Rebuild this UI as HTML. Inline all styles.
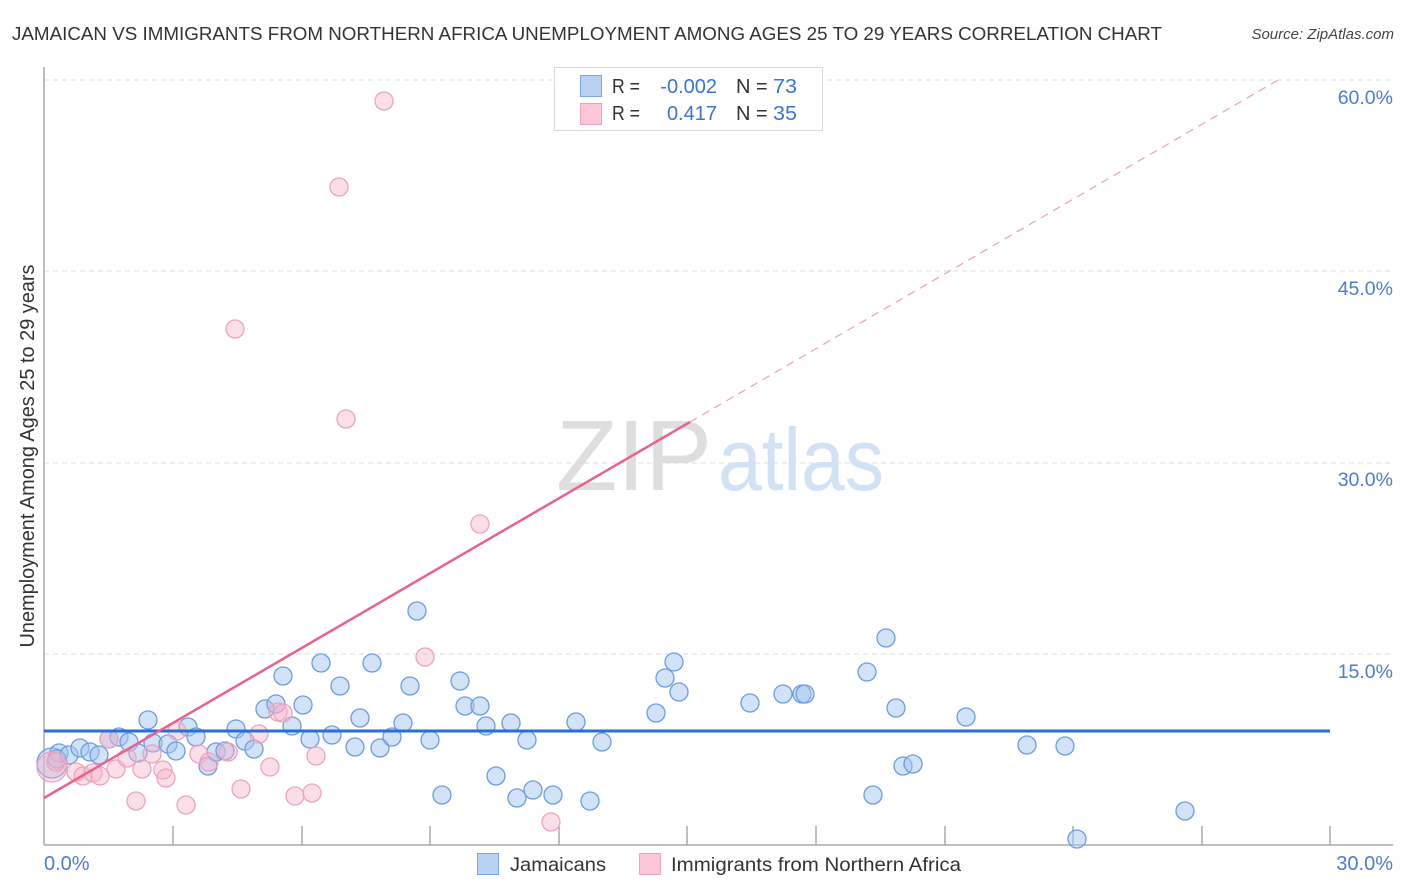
<!DOCTYPE html>
<html><head><meta charset="utf-8"><style>
html,body{margin:0;padding:0;background:#fff;}
svg{display:block;}
text{font-family:"Liberation Sans",sans-serif;}
</style></head><body>
<svg width="1406" height="892" viewBox="0 0 1406 892" xmlns="http://www.w3.org/2000/svg">
<!-- title -->
<text x="12" y="40" font-size="18" fill="#333" textLength="1150" lengthAdjust="spacingAndGlyphs">JAMAICAN VS IMMIGRANTS FROM NORTHERN AFRICA UNEMPLOYMENT AMONG AGES 25 TO 29 YEARS CORRELATION CHART</text>
<text x="1394" y="39" font-size="15" fill="#444" font-style="italic" text-anchor="end">Source: ZipAtlas.com</text>

<!-- watermark -->
<text x="556" y="490" font-family="Liberation Serif,serif" font-size="100" fill="#dedede" textLength="156" lengthAdjust="spacingAndGlyphs">ZIP</text>
<text x="718" y="490" font-size="88" fill="#d2e2f5" textLength="166" lengthAdjust="spacingAndGlyphs">atlas</text>

<!-- gridlines -->
<g stroke="#dcdcdc" stroke-width="1" stroke-dasharray="5,4">
<line x1="44" y1="80" x2="1393" y2="80"/>
<line x1="44" y1="271" x2="1393" y2="271"/>
<line x1="44" y1="463" x2="1393" y2="463"/>
<line x1="44" y1="654" x2="1393" y2="654"/>
</g>

<!-- axes -->
<g stroke="#aaa" stroke-width="1.5">
<line x1="44" y1="67" x2="44" y2="845"/>
<line x1="44" y1="845" x2="1393" y2="845"/>
<line x1="173" y1="826" x2="173" y2="845"/>
<line x1="302" y1="826" x2="302" y2="845"/>
<line x1="430" y1="826" x2="430" y2="845"/>
<line x1="559" y1="826" x2="559" y2="845"/>
<line x1="687" y1="826" x2="687" y2="845"/>
<line x1="816" y1="826" x2="816" y2="845"/>
<line x1="945" y1="826" x2="945" y2="845"/>
<line x1="1073" y1="826" x2="1073" y2="845"/>
<line x1="1202" y1="826" x2="1202" y2="845"/>
<line x1="1330" y1="826" x2="1330" y2="845"/>
</g>

<!-- y labels -->
<g font-size="19.5" fill="#4a7bd8" text-anchor="end">
<text x="1393" y="104">60.0%</text>
<text x="1393" y="295">45.0%</text>
<text x="1393" y="486">30.0%</text>
<text x="1393" y="678">15.0%</text>
<text x="1393" y="870" font-size="20">30.0%</text>
</g>
<text x="44" y="870" font-size="20" fill="#4a7bd8">0.0%</text>

<text transform="translate(34,456) rotate(-90)" font-size="20" fill="#333" text-anchor="middle" textLength="383" lengthAdjust="spacingAndGlyphs">Unemployment Among Ages 25 to 29 years</text>

<!-- blue points -->
<g fill="rgba(165,198,240,0.5)" stroke="#6b9de3" stroke-width="1.3">
<circle cx="52" cy="763" r="15"/>
<circle cx="59" cy="753" r="9"/><circle cx="57" cy="759" r="9"/><circle cx="69" cy="755" r="9"/>
<circle cx="80" cy="748" r="9"/><circle cx="90" cy="752" r="9"/><circle cx="99" cy="755" r="9"/>
<circle cx="109" cy="739" r="9"/><circle cx="119" cy="737" r="9"/><circle cx="129" cy="742" r="9"/>
<circle cx="138" cy="753" r="9"/><circle cx="148" cy="720" r="9"/><circle cx="153" cy="743" r="9"/>
<circle cx="168" cy="744" r="9"/><circle cx="176" cy="751" r="9"/><circle cx="188" cy="727" r="9"/>
<circle cx="196" cy="737" r="9"/><circle cx="208" cy="766" r="9"/><circle cx="216" cy="752" r="9"/>
<circle cx="225" cy="751" r="9"/><circle cx="236" cy="729" r="9"/><circle cx="245" cy="741" r="9"/>
<circle cx="254" cy="749" r="9"/><circle cx="265" cy="709" r="9"/><circle cx="276" cy="704" r="9"/>
<circle cx="283" cy="676" r="9"/><circle cx="292" cy="726" r="9"/><circle cx="303" cy="705" r="9"/>
<circle cx="310" cy="739" r="9"/><circle cx="321" cy="663" r="9"/><circle cx="332" cy="735" r="9"/>
<circle cx="340" cy="686" r="9"/><circle cx="355" cy="747" r="9"/><circle cx="360" cy="718" r="9"/>
<circle cx="372" cy="663" r="9"/><circle cx="380" cy="748" r="9"/><circle cx="392" cy="737" r="9"/>
<circle cx="403" cy="723" r="9"/><circle cx="410" cy="686" r="9"/><circle cx="417" cy="611" r="9"/>
<circle cx="430" cy="740" r="9"/><circle cx="442" cy="795" r="9"/><circle cx="460" cy="681" r="9"/>
<circle cx="465" cy="706" r="9"/><circle cx="480" cy="706" r="9"/><circle cx="486" cy="726" r="9"/>
<circle cx="496" cy="776" r="9"/><circle cx="511" cy="723" r="9"/><circle cx="517" cy="798" r="9"/>
<circle cx="527" cy="740" r="9"/><circle cx="533" cy="790" r="9"/><circle cx="553" cy="795" r="9"/>
<circle cx="576" cy="722" r="9"/><circle cx="590" cy="801" r="9"/><circle cx="602" cy="742" r="9"/>
<circle cx="656" cy="713" r="9"/><circle cx="665" cy="678" r="9"/><circle cx="674" cy="662" r="9"/>
<circle cx="679" cy="692" r="9"/><circle cx="750" cy="703" r="9"/><circle cx="783" cy="694" r="9"/>
<circle cx="802" cy="694" r="9"/><circle cx="805" cy="694" r="9"/><circle cx="867" cy="672" r="9"/>
<circle cx="886" cy="638" r="9"/><circle cx="873" cy="795" r="9"/><circle cx="896" cy="708" r="9"/>
<circle cx="903" cy="766" r="9"/><circle cx="913" cy="764" r="9"/><circle cx="966" cy="717" r="9"/>
<circle cx="1027" cy="745" r="9"/><circle cx="1065" cy="746" r="9"/><circle cx="1185" cy="811" r="9"/>
<circle cx="1077" cy="839" r="9"/>
</g>

<!-- pink points -->
<g fill="rgba(245,178,200,0.42)" stroke="#eea3bb" stroke-width="1.3">
<circle cx="52" cy="767" r="15"/>
<circle cx="56" cy="762" r="9"/><circle cx="76" cy="772" r="9"/><circle cx="83" cy="776" r="9"/>
<circle cx="93" cy="773" r="9"/><circle cx="100" cy="776" r="9"/><circle cx="109" cy="739" r="9"/>
<circle cx="116" cy="769" r="9"/><circle cx="127" cy="758" r="9"/><circle cx="136" cy="801" r="9"/>
<circle cx="142" cy="769" r="9"/><circle cx="152" cy="754" r="9"/><circle cx="163" cy="770" r="9"/>
<circle cx="166" cy="778" r="9"/><circle cx="177" cy="731" r="9"/><circle cx="186" cy="805" r="9"/>
<circle cx="199" cy="754" r="9"/><circle cx="209" cy="762" r="9"/><circle cx="228" cy="752" r="9"/>
<circle cx="241" cy="789" r="9"/><circle cx="259" cy="734" r="9"/><circle cx="270" cy="767" r="9"/>
<circle cx="278" cy="712" r="9"/><circle cx="283" cy="713" r="9"/><circle cx="295" cy="796" r="9"/>
<circle cx="312" cy="793" r="9"/><circle cx="316" cy="756" r="9"/><circle cx="425" cy="657" r="9"/>
<circle cx="551" cy="822" r="9"/><circle cx="480" cy="524" r="9"/><circle cx="346" cy="419" r="9"/>
<circle cx="235" cy="329" r="9"/><circle cx="339" cy="187" r="9"/><circle cx="384" cy="101" r="9"/>
</g>

<!-- regression lines -->
<line x1="44" y1="731" x2="1330" y2="731" stroke="#2a6dd6" stroke-width="3"/>
<line x1="44" y1="798" x2="690" y2="422" stroke="#e8628c" stroke-width="2.5"/>
<line x1="690" y1="422" x2="1278" y2="80" stroke="#eaa0b8" stroke-width="1.2" stroke-dasharray="8,6"/>

<!-- legend box -->
<rect x="554.5" y="67.5" width="268" height="63" fill="#fff" stroke="#d8d8d8" stroke-width="1"/>
<rect x="580.5" y="75.5" width="21" height="21" fill="#b8d2f5" stroke="#7aa6e6" stroke-width="1"/>
<rect x="580.5" y="103.5" width="21" height="21" fill="#fbc6d6" stroke="#efa4bc" stroke-width="1"/>
<g font-size="20">
<text x="612" y="93" fill="#333" textLength="28" lengthAdjust="spacingAndGlyphs">R =</text>
<text x="717" y="93" fill="#3a74d6" text-anchor="end">-0.002</text>
<text x="736" y="93" fill="#333">N =</text>
<text x="773" y="93" fill="#3a74d6" textLength="24" lengthAdjust="spacingAndGlyphs">73</text>
<text x="612" y="120" fill="#333" textLength="28" lengthAdjust="spacingAndGlyphs">R =</text>
<text x="717" y="120" fill="#3a74d6" text-anchor="end">0.417</text>
<text x="736" y="120" fill="#333">N =</text>
<text x="773" y="120" fill="#3a74d6" textLength="24" lengthAdjust="spacingAndGlyphs">35</text>
</g>

<!-- bottom legend -->
<rect x="477.5" y="853.5" width="21" height="21" fill="#b8d2f5" stroke="#7aa6e6" stroke-width="1"/>
<text x="510" y="871" font-size="19.5" fill="#333" textLength="96" lengthAdjust="spacingAndGlyphs">Jamaicans</text>
<rect x="639.5" y="853.5" width="21" height="21" fill="#fbc6d6" stroke="#efa4bc" stroke-width="1"/>
<text x="671" y="871" font-size="19.5" fill="#333" textLength="290" lengthAdjust="spacingAndGlyphs">Immigrants from Northern Africa</text>
</svg>
</body></html>
